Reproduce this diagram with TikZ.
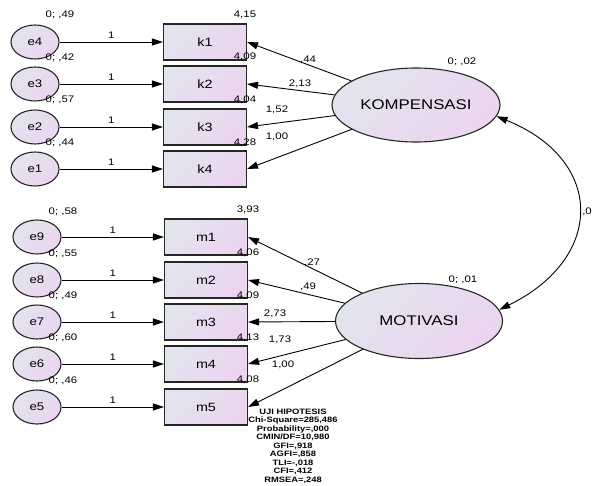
\documentclass[tikz,border=0pt]{standalone}
\usepackage{fontspec}
\setmainfont[FakeStretch=1.2]{Liberation Sans}
\usetikzlibrary{shapes.geometric,arrows.meta}
\definecolor{fillA}{RGB}{226,228,238}
\definecolor{fillB}{RGB}{236,212,240}
\begin{document}
\begin{tikzpicture}[x=1pt,y=-1pt,
  shade1/.style={left color=fillA,right color=fillB,shading angle=45},
  errnode/.style={ellipse,draw=black!85,line width=1.1pt,shade1,minimum width=48pt,minimum height=34pt,inner sep=0pt,font=\fontsize{11}{12}\selectfont},
  obsbox/.style={rectangle,draw=black!85,line width=1.1pt,shade1,minimum width=83pt,minimum height=36pt,inner sep=0pt,font=\fontsize{12}{13}\selectfont},
  latent/.style={ellipse,draw=black!85,line width=1.1pt,shade1,inner sep=0pt,font=\fontsize{14}{15}\selectfont},
  sm/.style={inner sep=0pt,font=\fontsize{9.5}{10}\selectfont},
  arr/.style={line width=0.9pt,-{Triangle[length=11pt,width=7pt]}},
  arrboth/.style={line width=0.9pt,{Triangle[length=11pt,width=7pt]}-{Triangle[length=11pt,width=7pt]}}
]
\useasboundingbox (0,0) rectangle (593,486);

% error terms
\node[errnode] (e4) at (35,42) {e4};
\node[errnode] (e3) at (35,84) {e3};
\node[errnode] (e2) at (35,127) {e2};
\node[errnode] (e1) at (35,169) {e1};
\node[errnode] (e9) at (37,237) {e9};
\node[errnode] (e8) at (37,280) {e8};
\node[errnode] (e7) at (37,322) {e7};
\node[errnode] (e6) at (37,364) {e6};
\node[errnode] (e5) at (37,407) {e5};

% observed
\node[obsbox] (k1) at (205,42) {k1};
\node[obsbox] (k2) at (205,84) {k2};
\node[obsbox] (k3) at (205,127) {k3};
\node[obsbox] (k4) at (205,169) {k4};
\node[obsbox] (m1) at (206,237) {m1};
\node[obsbox] (m2) at (206,280) {m2};
\node[obsbox] (m3) at (206,322) {m3};
\node[obsbox] (m4) at (206,364) {m4};
\node[obsbox] (m5) at (206,407) {m5};

% latent
\node[latent,minimum width=168pt,minimum height=74pt] (K) at (416,105) {KOMPENSASI};
\node[latent,minimum width=167pt,minimum height=75pt] (M) at (419,321) {MOTIVASI};

% error -> observed
\foreach \e/\o in {e4/k1,e3/k2,e2/k3,e1/k4,e9/m1,e8/m2,e7/m3,e6/m4,e5/m5}{
  \draw[arr] (\e) -- node[sm,above=3pt] (lab\e) {1} (\o);
}

% latent -> observed
\draw[arr] (K) -- (k1.east);
\draw[arr] (K) -- (k2.east);
\draw[arr] (K) -- (k3.east);
\draw[arr] (K) -- (k4.east);
\draw[arr] (M) -- (m1.east);
\draw[arr] (M) -- (m2.east);
\draw[arr] (M) -- (m3.east);
\draw[arr] (M) -- (m4.east);
\draw[arr] (M) -- (m5.east);

% covariance
\draw[arrboth] (K.-8) .. controls (605,160) and (605,258) .. (M.8);
\node[sm,anchor=east] (cov) at (592,212) {,0};

% path coefficients
\node[sm] (pk1) at (308,60) {,44};
\node[sm] (pk2) at (300,84) {2,13};
\node[sm] (pk3) at (277,110) {1,52};
\node[sm] (pk4) at (277,137) {1,00};
\node[sm] (pm1) at (312,263) {,27};
\node[sm] (pm2) at (308,287) {,49};
\node[sm] (pm3) at (275,314) {2,73};
\node[sm] (pm4) at (280,340) {1,73};
\node[sm] (pm5) at (283,365) {1,00};

% variances
\node[sm] (v4) at (60,15) {0; ,49};
\node[sm] (v3) at (60,58) {0; ,42};
\node[sm] (v2) at (60,100) {0; ,57};
\node[sm] (v1) at (60,143) {0; ,44};
\node[sm] (v9) at (63,212) {0; ,58};
\node[sm] (v8) at (63,254) {0; ,55};
\node[sm] (v7) at (63,296) {0; ,49};
\node[sm] (v6) at (63,338) {0; ,60};
\node[sm] (v5) at (63,381) {0; ,46};
\node[sm] (vK) at (462,62) {0; ,02};
\node[sm] (vM) at (463,280) {0; ,01};

% intercepts
\node[sm] (ik1) at (245,15) {4,15};
\node[sm] (ik2) at (245,57) {4,09};
\node[sm] (ik3) at (245,100) {4,04};
\node[sm] (ik4) at (245,143) {4,28};
\node[sm] (im1) at (248,210) {3,93};
\node[sm] (im2) at (248,253) {4,06};
\node[sm] (im3) at (248,296) {4,09};
\node[sm] (im4) at (248,338) {4,13};
\node[sm] (im5) at (248,380) {4,08};

% fit
\node[align=center,inner sep=0pt,font=\fontsize{7.8}{8.5}\selectfont\bfseries] (fit) at (293,446)
 {UJI HIPOTESIS\\Chi-Square=285,486\\Probability=,000\\CMIN/DF=10,980\\GFI=,918\\AGFI=,858\\TLI=-,018\\CFI=,412\\RMSEA=,248};
\end{tikzpicture}
\end{document}
